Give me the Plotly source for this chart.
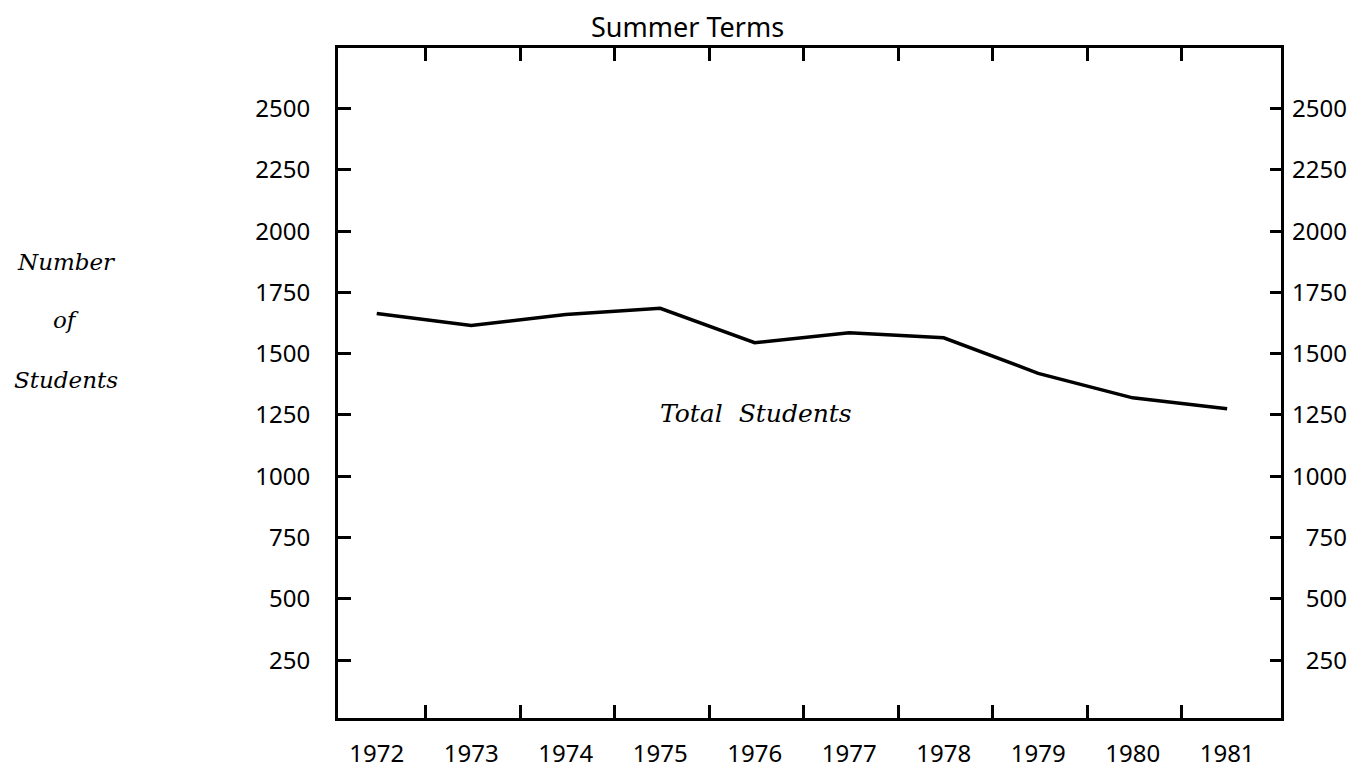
import plotly.graph_objects as go

# ---- data ----
years = [1972, 1973, 1974, 1975, 1976, 1977, 1978, 1979, 1980, 1981]
total_students = [1664, 1615, 1660, 1685, 1545, 1585, 1565, 1420, 1320, 1275]
year_labels = [str(y) for y in years]
y_ticks = [250, 500, 750, 1000, 1250, 1500, 1750, 2000, 2250, 2500]
y_tick_labels = [str(v) for v in y_ticks]
half_year_ticks = [y + 0.52 for y in years[:-1]]

title_text = "Summer Terms"
series_label = "Total&nbsp;&nbsp;Students"
axis_label_lines = ["Number", "of", "Students"]

X_RANGE = [1971.59, 1981.57]
Y_RANGE = [14, 2747]

TICK_FONT = dict(family="Noto Sans", size=24, color="black")
ITALIC_FONT = dict(family="DejaVu Serif", size=23, color="black", style="italic")

fig = go.Figure()

fig.add_trace(go.Scatter(
    x=years, y=total_students, mode="lines",
    line=dict(color="black", width=3.5),
    showlegend=False, hoverinfo="skip",
))
# invisible trace to attach secondary axes
fig.add_trace(go.Scatter(x=[years[0]], y=[y_ticks[0]], xaxis="x2", yaxis="y2",
                         mode="markers", marker=dict(opacity=0),
                         showlegend=False, hoverinfo="skip"))

# right labels right-aligned using figure spaces
max_len = max(len(t) for t in y_tick_labels)
right_labels = ["\u2007" * (max_len - len(t)) + t for t in y_tick_labels]

fig.update_layout(
    width=1361, height=773,
    margin=dict(l=330, r=88, t=40, b=37),
    paper_bgcolor="white", plot_bgcolor="white",
    showlegend=False,
    xaxis=dict(
        range=X_RANGE, tickmode="array", tickvals=years, ticktext=year_labels,
        ticks="", showgrid=False, zeroline=False,
        showline=True, linecolor="black", linewidth=3, mirror=True,
        tickfont=TICK_FONT, ticklabelstandoff=12,
    ),
    xaxis2=dict(
        range=X_RANGE, overlaying="x", side="bottom", tickmode="array",
        tickvals=half_year_ticks, ticks="inside", ticklen=13, tickwidth=3,
        tickcolor="black", showticklabels=False, showgrid=False,
        zeroline=False, showline=False, mirror="ticks",
    ),
    yaxis=dict(
        range=Y_RANGE, tickmode="array", tickvals=y_ticks, ticktext=y_tick_labels,
        ticks="inside", ticklen=13, tickwidth=3, tickcolor="black",
        showgrid=False, zeroline=False,
        showline=True, linecolor="black", linewidth=3, mirror=True,
        tickfont=TICK_FONT, ticklabelstandoff=20,
    ),
    yaxis2=dict(
        range=Y_RANGE, overlaying="y", side="right", tickmode="array",
        tickvals=y_ticks, ticktext=right_labels,
        ticks="inside", ticklen=11, tickwidth=3, tickcolor="black",
        showgrid=False, zeroline=False, showline=False,
        tickfont=TICK_FONT, ticklabelstandoff=10,
    ),
)

fig.add_annotation(
    text=title_text, xref="paper", yref="paper", x=0.371, y=1.032,
    xanchor="center", yanchor="middle", showarrow=False,
    font=dict(family="Noto Sans", size=27, color="black"),
)

fig.add_annotation(
    text=series_label, xref="x", yref="y", x=1976.01, y=1255,
    xanchor="center", yanchor="middle", showarrow=False,
    font=dict(family="DejaVu Serif", size=25, color="black", style="italic"),
)

for line_text, ypos in zip(axis_label_lines, [0.680, 0.594, 0.505]):
    fig.add_annotation(
        text=line_text, xref="paper", yref="paper", x=-0.288, y=ypos,
        xanchor="center", yanchor="middle", showarrow=False, font=ITALIC_FONT,
    )

fig.write_html("out.html")
